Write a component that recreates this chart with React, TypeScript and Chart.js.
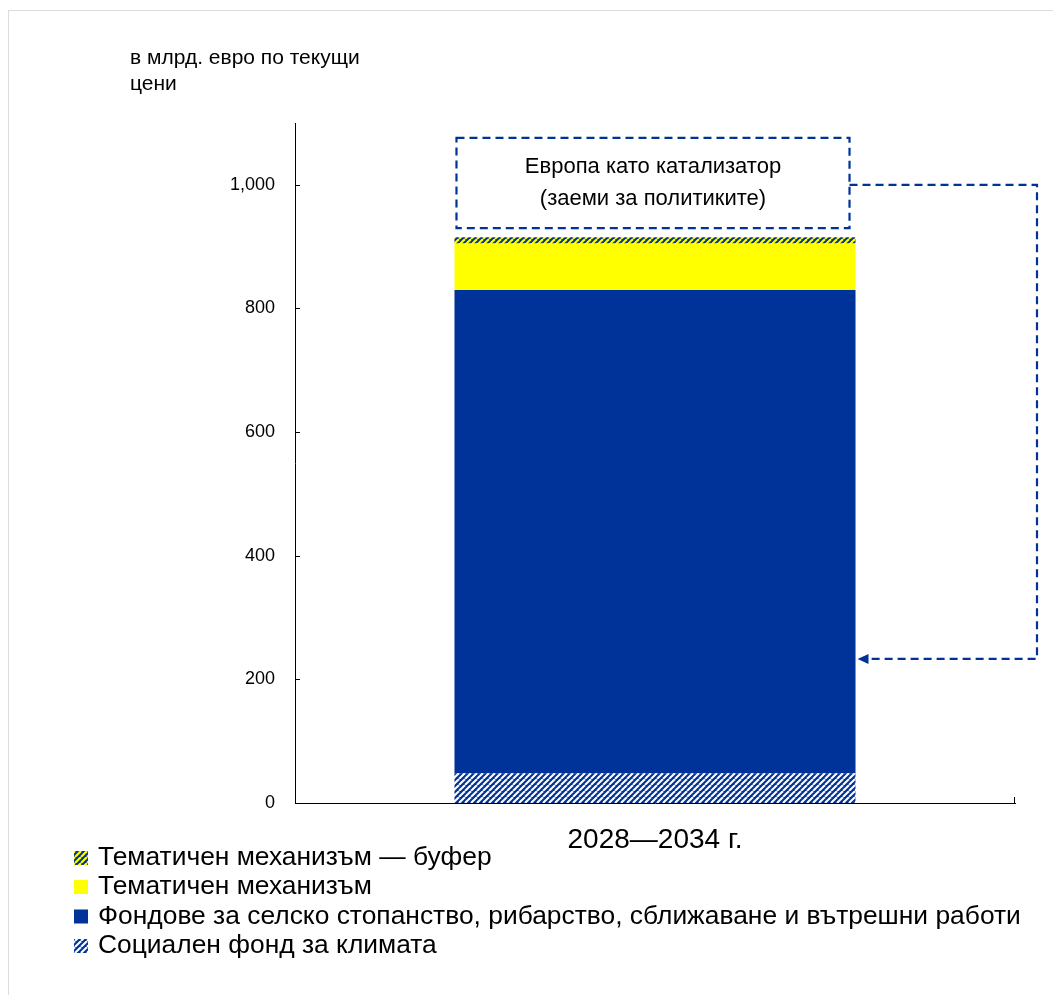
import { useEffect, useRef } from "react";
import { Chart, registerables } from "chart.js";

Chart.register(...registerables);

// ---- data ----
const categories = ["2028—2034 г."];
const seriesLabels = [
  "Социален фонд за климата",
  "Фондове за селско стопанство, рибарство, сближаване и вътрешни работи",
  "Тематичен механизъм",
  "Тематичен механизъм — буфер",
];
const climateFund = [48];
const coreFunds = [782];
const thematicFacility = [75];
const thematicBuffer = [10];
const yTicks = [0, 200, 400, 600, 800, 1000];
const yMax = 1100;
const yTitle = ["в млрд. евро по текущи", "цени"];
const catalystText = ["Европа като катализатор", "(заеми за политиките)"];
const catalystRange = [930, 1076];
const arrowFromValue = 1000;
const arrowToValue = 233;

const BLUE = "#003399";
const YELLOW = "#FFFF00";
const FONT = "'Liberation Sans', Arial, sans-serif";

function makeStripes(bg: string, fg: string, size: number, lw: number) {
  const c = document.createElement("canvas");
  c.width = size;
  c.height = size;
  const g = c.getContext("2d")!;
  g.fillStyle = bg;
  g.fillRect(0, 0, size, size);
  g.strokeStyle = fg;
  g.lineWidth = lw;
  for (let k = -1; k <= 1; k++) {
    g.beginPath();
    g.moveTo(k * size, size);
    g.lineTo(k * size + size, 0);
    g.stroke();
  }
  return g.createPattern(c, "repeat")!;
}

export default function App() {
  const ref = useRef<HTMLCanvasElement | null>(null);

  useEffect(() => {
    document.body.style.overflow = "hidden";
    const canvas = ref.current!;
    const ctx = canvas.getContext("2d")!;
    const climatePattern = makeStripes(BLUE, "#ffffff", 6, 2);
    const bufferPattern = makeStripes(BLUE, YELLOW, 6, 2.2);

    const decor = {
      id: "decor",
      afterDraw(chart: any) {
        const c = chart.ctx as CanvasRenderingContext2D;
        const { chartArea, scales } = chart;
        const y = scales.y;
        c.save();
        // y title
        c.fillStyle = "#000";
        c.font = `21px ${FONT}`;
        c.textAlign = "left";
        c.textBaseline = "middle";
        c.fillText(yTitle[0], 121, 47);
        c.fillText(yTitle[1], 121, 73);

        // inner tick marks
        c.strokeStyle = "#000";
        c.lineWidth = 1;
        c.beginPath();
        yTicks.forEach((v) => {
          const py = Math.round(y.getPixelForValue(v)) + 0.5;
          c.moveTo(chartArea.left, py);
          c.lineTo(chartArea.left + 5, py);
        });
        const rx = Math.round(chartArea.right) - 0.5;
        c.moveTo(rx, chartArea.bottom);
        c.lineTo(rx, chartArea.bottom - 6);
        c.stroke();

        // dashed catalyst box
        const el = chart.getDatasetMeta(0).data[0];
        const barL = el.x - el.width / 2;
        const barR = el.x + el.width / 2;
        const bl = barL + 2;
        const br = barR - 6;
        const bt = y.getPixelForValue(catalystRange[1]);
        const bb = y.getPixelForValue(catalystRange[0]);
        c.strokeStyle = BLUE;
        c.lineWidth = 2.2;
        c.setLineDash([8, 5]);
        c.strokeRect(bl, bt, br - bl, bb - bt);
        // connector arrow
        const ay1 = y.getPixelForValue(arrowFromValue);
        const ay2 = y.getPixelForValue(arrowToValue);
        const ax = chartArea.right + 22;
        const tipX = barR + 2;
        c.beginPath();
        c.moveTo(br, ay1);
        c.lineTo(ax, ay1);
        c.lineTo(ax, ay2);
        c.lineTo(tipX + 10, ay2);
        c.stroke();
        c.setLineDash([]);
        c.fillStyle = BLUE;
        c.beginPath();
        c.moveTo(tipX, ay2);
        c.lineTo(tipX + 11, ay2 - 5);
        c.lineTo(tipX + 11, ay2 + 5);
        c.closePath();
        c.fill();

        // catalyst text
        const cy = (bt + bb) / 2;
        const cx = (bl + br) / 2;
        c.fillStyle = "#000";
        c.font = `22px ${FONT}`;
        c.textAlign = "center";
        c.fillText(catalystText[0], cx, cy - 16);
        c.fillText(catalystText[1], cx, cy + 16);

        // legend (reverse order)
        c.textAlign = "left";
        c.font = `26.4px ${FONT}`;
        const ds = chart.data.datasets;
        const rows = [846, 875, 904.5, 934];
        for (let i = 0; i < ds.length; i++) {
          const d = ds[ds.length - 1 - i];
          const ry = rows[i];
          c.fillStyle = d.backgroundColor;
          c.fillRect(65, ry - 6, 14, 14);
          c.fillStyle = "#000";
          c.fillText(d.label, 89, ry + 1);
        }
        c.restore();
      },
    };

    const chart = new Chart(ctx, {
      type: "bar",
      data: {
        labels: categories,
        datasets: [
          { label: seriesLabels[0], data: climateFund, backgroundColor: climatePattern as any },
          { label: seriesLabels[1], data: coreFunds, backgroundColor: BLUE },
          { label: seriesLabels[2], data: thematicFacility, backgroundColor: YELLOW },
          { label: seriesLabels[3], data: thematicBuffer, backgroundColor: bufferPattern as any },
        ],
      },
      options: {
        animation: false,
        responsive: false,
        devicePixelRatio: 1,
        layout: { padding: { left: 0, right: 38, top: 112, bottom: 0 } },
        datasets: { bar: { categoryPercentage: 1, barPercentage: 0.557, borderWidth: 0 } },
        plugins: { legend: { display: false }, tooltip: { enabled: false } },
        scales: {
          x: {
            stacked: true,
            grid: { display: false, drawTicks: false },
            border: { display: true, color: "#000", width: 1 },
            ticks: { color: "#000", font: { family: FONT, size: 28 }, padding: 20 },
            afterFit: (s: any) => {
              s.height = 192;
            },
          },
          y: {
            stacked: true,
            min: 0,
            max: yMax,
            grid: { display: false, drawTicks: false },
            border: { display: true, color: "#000", width: 1 },
            ticks: { color: "#000", font: { family: FONT, size: 18 }, padding: 20 },
            afterBuildTicks: (s: any) => {
              s.ticks = yTicks.map((v) => ({ value: v }));
            },
            afterFit: (s: any) => {
              s.width = 286;
            },
          },
        },
      },
      plugins: [decor],
    });
    return () => chart.destroy();
  }, []);

  return (
    <div
      style={{
        marginTop: 2,
        width: 1045,
        height: 985,
        borderTop: "1px solid #dcdcdc",
        borderLeft: "1px solid #dcdcdc",
        boxSizing: "border-box",
        overflow: "hidden",
      }}
    >
      <canvas ref={ref} width={1044} height={984} style={{ display: "block" }} />
    </div>
  );
}
